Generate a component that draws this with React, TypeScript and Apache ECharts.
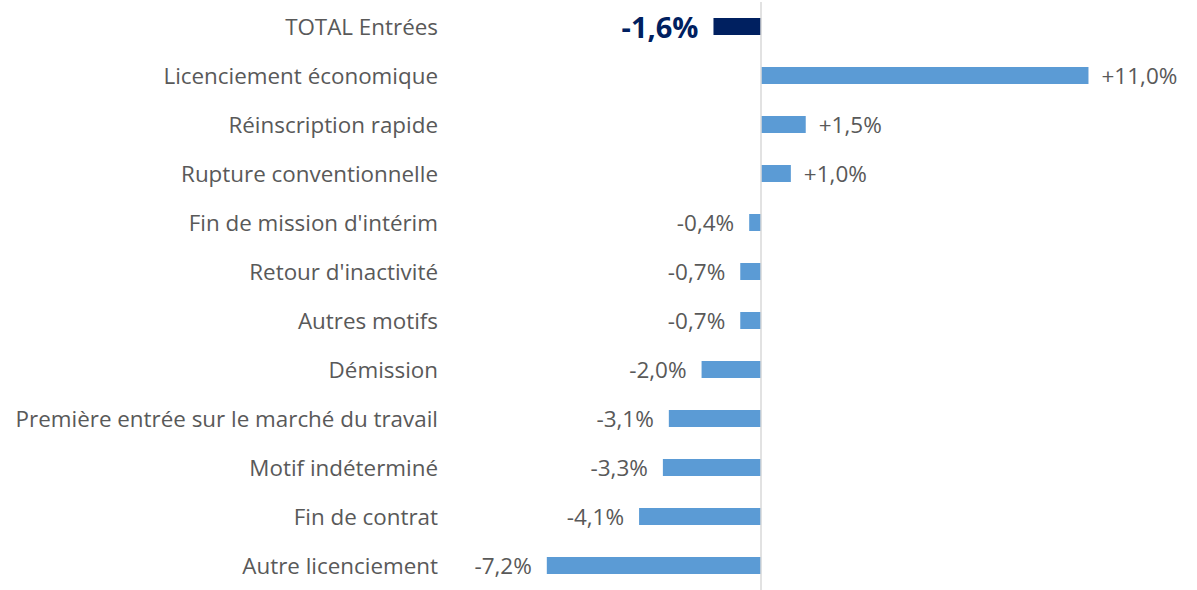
import React, { useEffect, useRef } from "react";
import * as echarts from "echarts";

const categories = [
  "TOTAL Entrées",
  "Licenciement économique",
  "Réinscription rapide",
  "Rupture conventionnelle",
  "Fin de mission d'intérim",
  "Retour d'inactivité",
  "Autres motifs",
  "Démission",
  "Première entrée sur le marché du travail",
  "Motif indéterminé",
  "Fin de contrat",
  "Autre licenciement",
];
const values = [-1.6, 11.0, 1.5, 1.0, -0.4, -0.7, -0.7, -2.0, -3.1, -3.3, -4.1, -7.2];
const totalIndex = 0;

const FONT = "Open Sans";
const fmt = (v: number) => (v > 0 ? "+" : "") + v.toFixed(1).replace(".", ",") + "%";

export default function App() {
  const ref = useRef<HTMLDivElement>(null);
  useEffect(() => {
    document.body.style.margin = "0";
    const chart = echarts.init(ref.current!, null, { renderer: "svg" });
    const data = values.map((v, i) => {
      const isTotal = i === totalIndex;
      return {
        value: v,
        itemStyle: { color: isTotal ? "#002060" : "#5B9BD5" },
        label: {
          show: true,
          position: v < 0 ? "left" : "right",
          distance: v < 0 ? 15 : 13,
          formatter: () => fmt(v),
          color: isTotal ? "#002060" : "#595959",
          fontSize: isTotal ? 29 : 22.5,
          fontWeight: isTotal ? "bold" : "normal",
          fontFamily: FONT,
        },
      };
    });
    chart.setOption({
      animation: false,
      grid: { left: 523, right: 49, top: 2, bottom: -4, containLabel: false },
      xAxis: {
        type: "value",
        min: -8,
        max: 13,
        show: false,
      },
      yAxis: {
        type: "category",
        data: categories,
        inverse: true,
        axisLine: { show: false },
        axisTick: { show: false },
        axisLabel: {
          margin: 85,
          fontSize: 22.4,
          color: "#595959",
          fontFamily: FONT,
        },
      },
      series: [
        {
          type: "bar",
          data,
          barWidth: 17,
          markLine: {
            silent: true,
            symbol: "none",
            label: { show: false },
            lineStyle: { color: "#D9D9D9", type: "solid", width: 1.5 },
            data: [{ xAxis: 0 }],
          },
        },
      ],
    });
    return () => chart.dispose();
  }, []);
  return <div ref={ref} style={{ width: 1197, height: 590 }} />;
}
